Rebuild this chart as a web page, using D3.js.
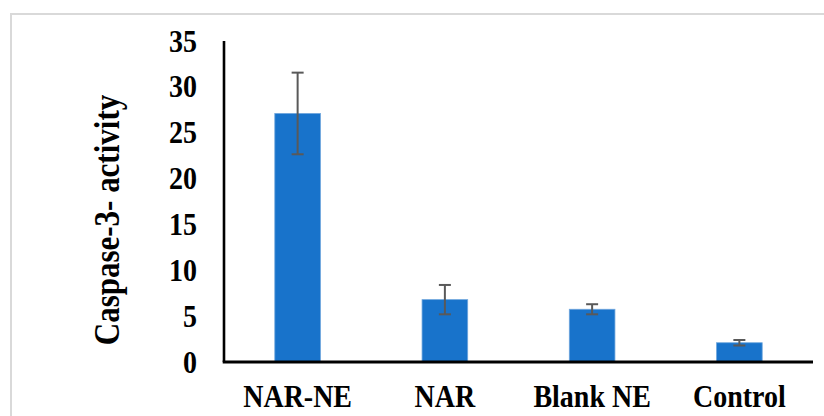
<!DOCTYPE html>
<html><head><meta charset="utf-8">
<script src="https://cdn.jsdelivr.net/npm/d3@7"></script>
<style>html,body{margin:0;padding:0;background:#fff;}svg{display:block;}</style>
</head><body>
<svg id="c" width="824" height="416"></svg>
<script>
const categories = ["NAR-NE", "NAR", "Blank NE", "Control"];
const values = [27.1, 6.8, 5.75, 2.1];
const errors = [4.45, 1.6, 0.55, 0.3];
const yTicks = [0, 5, 10, 15, 20, 25, 30, 35];
const yLabel = "Caspase-3- activity";

const svg = d3.select("#c");
const font = "'Liberation Serif','Times New Roman',serif";
const sY = 1.13;

// frame
svg.append("rect").attr("x", 11).attr("y", 14).attr("width", 830).attr("height", 420)
  .attr("fill", "none").attr("stroke", "#d9d9d9").attr("stroke-width", 2);

const x0 = 224, x1 = 813, yBase = 362, yTop = 41;
const x = d3.scaleBand().domain(categories).range([x0, x1]).paddingInner(0.69).paddingOuter(0.345);
const y = d3.scaleLinear().domain([0, 35]).range([yBase, yTop]);

// bars
svg.selectAll("rect.bar").data(categories).join("rect").attr("class", "bar")
  .attr("x", d => x(d)).attr("width", x.bandwidth())
  .attr("y", (d, i) => y(values[i])).attr("height", (d, i) => y(0) - y(values[i]))
  .attr("fill", "#1873cb").attr("stroke", "#6fa6dd").attr("stroke-width", 0.8);

// error bars
const cap = 6;
const eg = svg.append("g").attr("stroke", "#595959").attr("stroke-width", 2);
categories.forEach((c, i) => {
  const cx = x(c) + x.bandwidth() / 2;
  const hi = y(values[i] + errors[i]), lo = y(values[i] - errors[i]);
  eg.append("line").attr("x1", cx).attr("x2", cx).attr("y1", hi).attr("y2", lo);
  eg.append("line").attr("x1", cx - cap).attr("x2", cx + cap).attr("y1", hi).attr("y2", hi);
  eg.append("line").attr("x1", cx - cap).attr("x2", cx + cap).attr("y1", lo).attr("y2", lo);
});

// y axis
const yAxis = d3.axisLeft(y).tickValues(yTicks).tickSize(0);
const gy = svg.append("g").attr("transform", `translate(${x0},0)`).call(yAxis);
gy.select(".domain").attr("stroke", "#000").attr("stroke-width", 2.6).attr("d", `M0,${yTop}V${yBase}`);
gy.selectAll("text").attr("font-family", font).attr("font-weight", "bold").attr("font-size", 28).attr("fill", "#000")
  .attr("x", 0).attr("y", 0).attr("dy", null).attr("text-anchor", "end")
  .attr("transform", `translate(-27,10) scale(1,${sY})`);

// x axis
const xAxis = d3.axisBottom(x).tickSize(0);
const gx = svg.append("g").attr("transform", `translate(0,${yBase})`).call(xAxis);
gx.select(".domain").attr("stroke", "#000").attr("stroke-width", 3).attr("d", `M${x0 - 1.3},0H${x1}`);
gx.selectAll("text").attr("font-family", font).attr("font-weight", "bold").attr("font-size", 28).attr("fill", "#000")
  .attr("y", 0).attr("dy", null)
  .attr("transform", `translate(0,45) scale(1,${sY})`);

// y label
svg.append("text").attr("transform", `translate(119,220) rotate(-90) scale(1,${sY})`)
  .attr("text-anchor", "middle").attr("font-family", font).attr("font-weight", "bold")
  .attr("font-size", 31).attr("fill", "#000").text(yLabel);
</script>
</body></html>
